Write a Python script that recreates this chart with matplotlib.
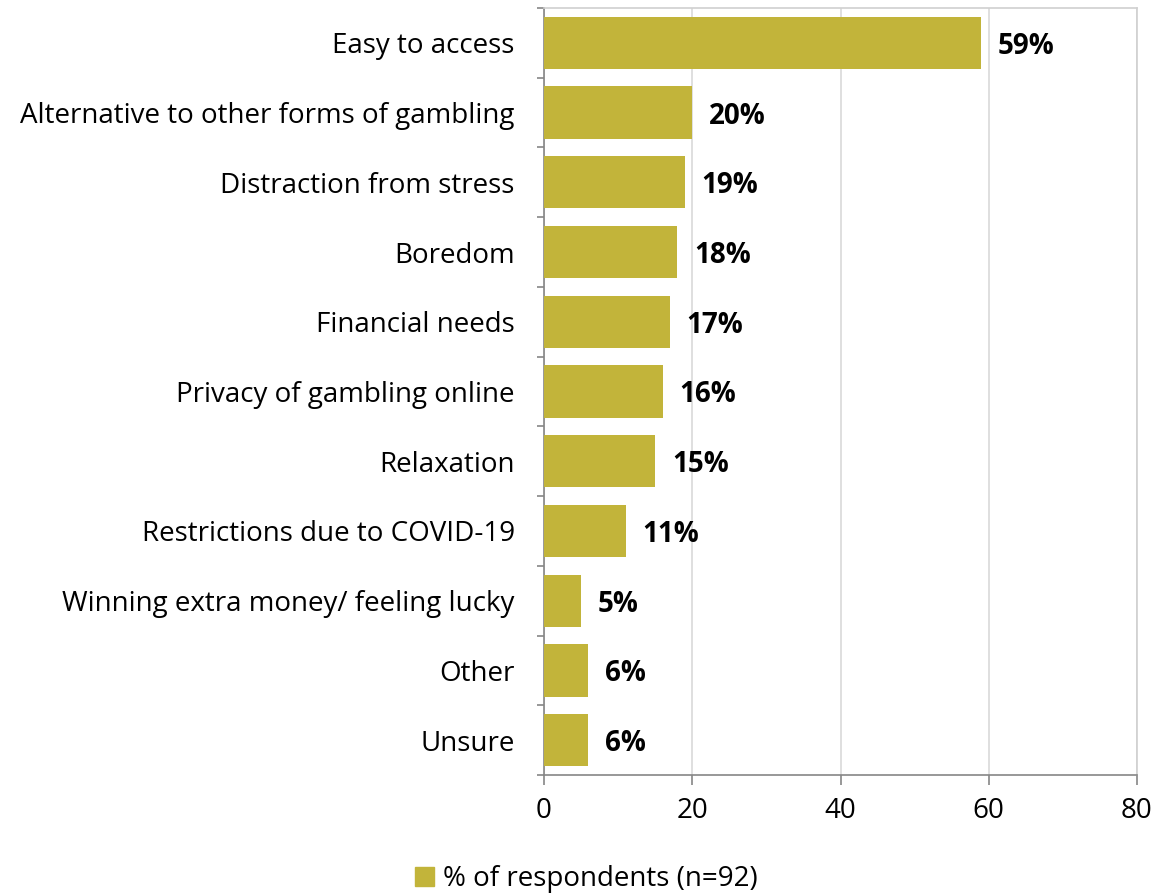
import matplotlib.pyplot as plt
from matplotlib.patches import Patch

plt.rcParams['font.family'] = ['Open Sans', 'DejaVu Sans']

# reasons for gambling online, top to bottom
reasons = ["Easy to access", "Alternative to other forms of gambling",
           "Distraction from stress", "Boredom", "Financial needs",
           "Privacy of gambling online", "Relaxation",
           "Restrictions due to COVID-19", "Winning extra money/ feeling lucky",
           "Other", "Unsure"]
share = [59, 20, 19, 18, 17, 16, 15, 11, 5, 6, 6]
x_ticks = [0, 20, 40, 60, 80]
legend_label = "% of respondents (n=92)"

bar_color = "#C2B43A"

fig = plt.figure(figsize=(11.53, 8.94), dpi=100)
ax = fig.add_axes([544 / 1153, 1 - 775 / 894, (1137 - 544) / 1153, (775 - 8) / 894])

pos = list(range(len(reasons)))
ax.barh(pos, share, height=0.75, color=bar_color, zorder=3)
ax.set_ylim(len(reasons) - 0.5, -0.5)
ax.set_xlim(0, 80)

for p, v in zip(pos, share):
    ax.annotate(f"{v}%", (v, p), xytext=(12, -2.5), textcoords="offset points",
                va="center", ha="left", fontsize=20, fontweight="bold")

ax.set_yticks(pos)
ax.set_yticklabels(reasons, fontsize=20)
ax.set_yticks([p - 0.5 for p in pos] + [len(reasons) - 0.5], minor=True)
ax.tick_params(axis="y", which="major", length=0, pad=21)
ax.tick_params(axis="y", which="minor", length=5, color="#868686", width=1.2)
ax.set_xticks(x_ticks)
ax.set_xticklabels([str(t) for t in x_ticks], fontsize=20)
ax.tick_params(axis="x", length=7, color="#868686", width=1.2, pad=9)

ax.grid(axis="x", color="#D9D9D9", linewidth=1.2, zorder=0)
for s in ["left", "bottom"]:
    ax.spines[s].set_color("#868686")
    ax.spines[s].set_linewidth(1.2)
for s in ["top", "right"]:
    ax.spines[s].set_color("#D0D0D0")
    ax.spines[s].set_linewidth(1.2)

fig.legend(handles=[Patch(color=bar_color, label=legend_label)],
           loc="center", bbox_to_anchor=(586 / 1153, 1 - 879 / 894),
           frameon=False, fontsize=20, handlelength=0.7, handleheight=0.7,
           handletextpad=0.3)

fig.savefig("out.png", dpi=100)
